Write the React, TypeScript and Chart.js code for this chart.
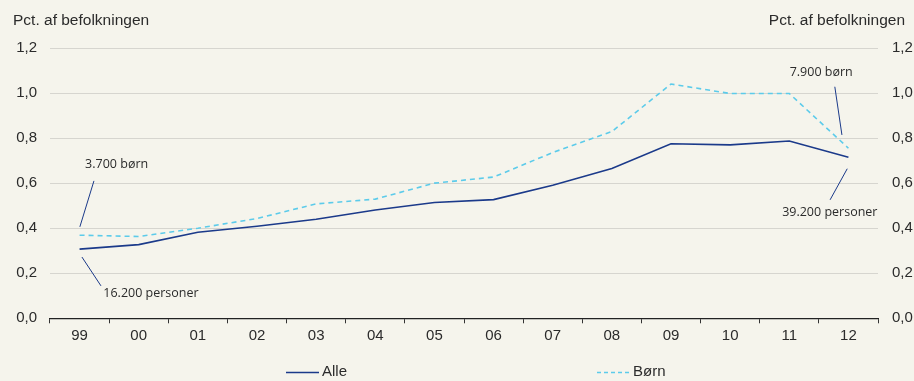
import React, { useEffect, useRef } from 'react';
import { Chart, registerables } from 'chart.js';

Chart.register(...registerables);

const categories = ['99', '00', '01', '02', '03', '04', '05', '06', '07', '08', '09', '10', '11', '12'];
const alle = [0.307, 0.327, 0.382, 0.409, 0.44, 0.481, 0.514, 0.527, 0.591, 0.665, 0.775, 0.77, 0.787, 0.715];
const born = [0.369, 0.363, 0.4, 0.443, 0.508, 0.529, 0.6, 0.627, 0.736, 0.829, 1.04, 0.998, 0.998, 0.755];
const seriesNames = ['Alle', 'Børn'];
const axisTitle = 'Pct. af befolkningen';
const yMin = 0;
const yMax = 1.2;
const yStep = 0.2;

// annotation labels: text anchor (category index, value) and leader line endpoints
const annoTexts = ['3.700 børn', '16.200 personer', '7.900 børn', '39.200 personer'];
const annoTextAt = [[0.627, 0.681], [1.207, 0.112], [12.54, 1.092], [12.685, 0.47]];
const annoLines = [
  [[0.005, 0.406], [0.243, 0.61]],
  [[0.04, 0.272], [0.362, 0.144]],
  [[12.77, 1.028], [12.89, 0.814]],
  [[12.98, 0.664], [12.69, 0.526]],
];

const BG = '#f5f4ec';
const NAVY = '#1b3a8a';
const LIGHT = '#5ccbea';
const TEXT = '#2b2b2b';
const SANS = '"Liberation Sans", Arial, sans-serif';

const fmt = (v: number) => v.toFixed(1).replace('.', ',');

export default function App() {
  const ref = useRef<HTMLCanvasElement | null>(null);

  useEffect(() => {
    const canvas = ref.current;
    if (!canvas) return;

    const decor = {
      id: 'decor',
      beforeDraw(chart: any) {
        const { ctx } = chart;
        ctx.save();
        ctx.fillStyle = BG;
        ctx.fillRect(0, 0, chart.width, chart.height);
        ctx.restore();
      },
      afterDraw(chart: any) {
        const { ctx, scales, chartArea } = chart;
        const xs = scales.x;
        const ys = scales.y;
        ctx.save();
        // axis titles
        ctx.fillStyle = TEXT;
        ctx.font = `15.5px ${SANS}`;
        ctx.textBaseline = 'middle';
        ctx.textAlign = 'left';
        ctx.fillText(axisTitle, 13, 21);
        ctx.textAlign = 'right';
        ctx.fillText(axisTitle, chart.width - 9, 21);

        // annotations
        ctx.strokeStyle = NAVY;
        ctx.lineWidth = 1;
        annoLines.forEach((ln) => {
          ctx.beginPath();
          ctx.moveTo(xs.getPixelForValue(ln[0][0]), ys.getPixelForValue(ln[0][1]));
          ctx.lineTo(xs.getPixelForValue(ln[1][0]), ys.getPixelForValue(ln[1][1]));
          ctx.stroke();
        });
        ctx.font = `12.5px "Open Sans", "Noto Sans", sans-serif`;
        ctx.fillStyle = TEXT;
        ctx.textAlign = 'center';
        ctx.textBaseline = 'middle';
        annoTexts.forEach((t, i) => {
          ctx.fillText(t, xs.getPixelForValue(annoTextAt[i][0]), ys.getPixelForValue(annoTextAt[i][1]));
        });

        // legend
        const ly = chart.height - 8.5;
        ctx.font = `15px ${SANS}`;
        ctx.textAlign = 'left';
        ctx.textBaseline = 'middle';
        const items = [
          { name: seriesNames[0], color: NAVY, dash: [] as number[], x: 286 },
          { name: seriesNames[1], color: LIGHT, dash: [4, 3], x: 597 },
        ];
        items.forEach((it) => {
          ctx.strokeStyle = it.color;
          ctx.lineWidth = 1.5;
          ctx.setLineDash(it.dash);
          ctx.beginPath();
          ctx.moveTo(it.x, ly);
          ctx.lineTo(it.x + 33, ly);
          ctx.stroke();
          ctx.setLineDash([]);
          ctx.fillStyle = TEXT;
          ctx.fillText(it.name, it.x + 36, ly - 0.5);
        });
        ctx.restore();
      },
    };

    const chart = new Chart(canvas, {
      type: 'line',
      data: {
        labels: categories,
        datasets: [
          {
            label: seriesNames[0],
            data: alle,
            borderColor: NAVY,
            borderWidth: 1.6,
            pointRadius: 0,
            tension: 0,
            yAxisID: 'y',
          },
          {
            label: seriesNames[1],
            data: born,
            borderColor: LIGHT,
            borderWidth: 1.6,
            borderDash: [5, 4],
            pointRadius: 0,
            tension: 0,
            yAxisID: 'y',
          },
        ],
      },
      options: {
        responsive: false,
        animation: false,
        layout: { padding: { top: 48, right: 0, bottom: 0, left: 0 } },
        plugins: {
          legend: { display: false },
          tooltip: { enabled: false },
          title: { display: false },
        },
        scales: {
          x: {
            type: 'category',
            offset: true,
            grid: {
              offset: true,
              drawOnChartArea: false,
              drawTicks: true,
              tickLength: 5,
              color: '#333',
              lineWidth: 1,
            },
            border: { display: true, color: '#222', width: 1.2 },
            ticks: {
              color: TEXT,
              font: { family: SANS, size: 15 },
              padding: 4,
              maxRotation: 0,
              autoSkip: false,
            },
            afterFit(scale: any) {
              scale.height = 381 - 318.3;
            },
          },
          y: {
            position: 'left',
            min: yMin,
            max: yMax,
            ticks: {
              stepSize: yStep,
              color: TEXT,
              font: { family: SANS, size: 15 },
              padding: 13,
              callback: (v: any) => fmt(Number(v)),
            },
            grid: { color: '#d6d5cf', lineWidth: 1, drawTicks: false },
            border: { display: false },
            afterFit(scale: any) {
              scale.width = 50;
            },
          },
          y2: {
            position: 'right',
            min: yMin,
            max: yMax,
            ticks: {
              stepSize: yStep,
              color: TEXT,
              font: { family: SANS, size: 15 },
              padding: 14,
              callback: (v: any) => fmt(Number(v)),
            },
            grid: { drawOnChartArea: false, drawTicks: false },
            border: { display: false },
            afterFit(scale: any) {
              scale.width = 914 - 878;
            },
          },
        },
      },
      plugins: [decor],
    });

    return () => chart.destroy();
  }, []);

  return (
    <div style={{ position: 'fixed', left: 0, top: 0, width: 914, height: 381, background: BG }}>
      <canvas ref={ref} width={914} height={381} style={{ display: 'block', width: 914, height: 381 }} />
    </div>
  );
}
